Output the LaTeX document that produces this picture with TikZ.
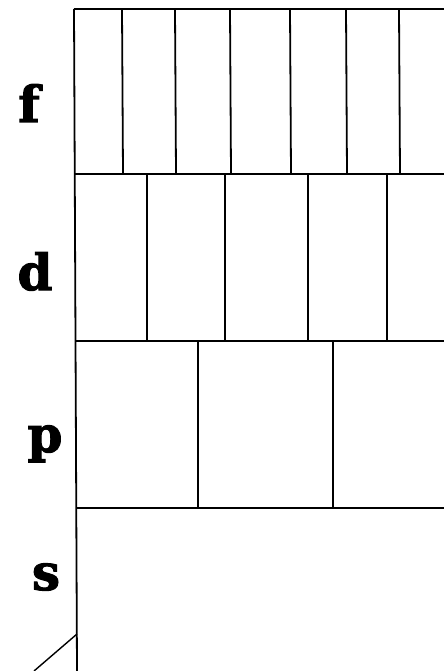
\documentclass[tikz,border=0pt]{standalone}
\usepackage{fontspec}
\newfontfamily\letterfont{DejaVu Serif Bold}[FakeBold=2]
\begin{document}
\begin{tikzpicture}[x=1pt,y=-1pt,
  grid/.style={line width=1.8pt,black},
  orb/.style={font=\letterfont\fontsize{50}{50}\selectfont,anchor=base,inner sep=0pt}]
\useasboundingbox (0,0) rectangle (444,671);
% horizontal lines
\draw[grid] (74,9) -- (444,9);
\draw[grid] (75,174) -- (444,174);
\draw[grid] (76,341) -- (444,341);
\draw[grid] (76,508) -- (444,508);
% left side
\draw[grid] (74,9) -- (77,671);
% f row
\foreach \x in {122,175,230,290,346,399} \draw[grid] (\x,9) -- (\x+1,174);
% d row
\foreach \x in {147,225,308,387} \draw[grid] (\x,174) -- (\x,341);
% p row
\foreach \x in {198,333} \draw[grid] (\x,341) -- (\x,508);
% diagonal
\coordinate (dg1) at (77,634);
\coordinate (dg2) at (34,671);
\draw[grid,line width=1.4pt] (dg1) -- (dg2);
% labels
\node[orb] (f) at (29,122) {f};
\node[orb] (d) at (35,290) {d};
\node[orb] (p) at (45,452) {p};
\node[orb] (s) at (46,590) {s};
\end{tikzpicture}
\end{document}
